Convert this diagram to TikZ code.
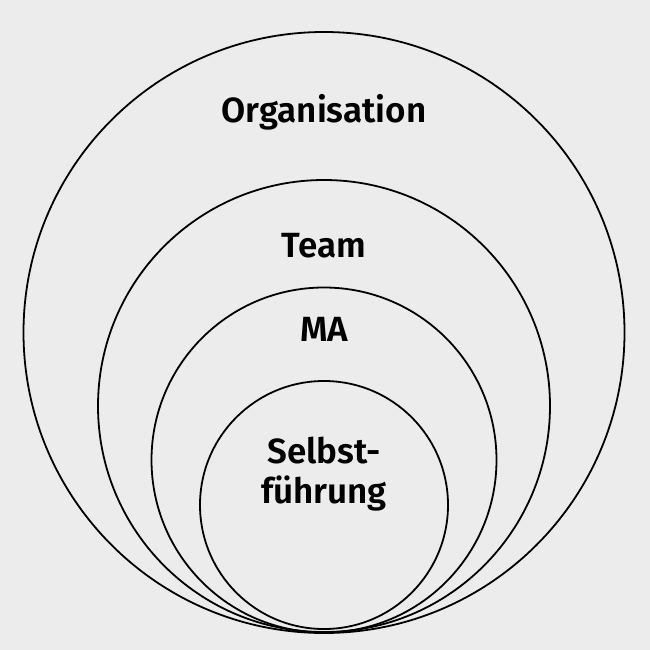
\documentclass[tikz,border=0pt]{standalone}
\usepackage{fontspec}
\setmainfont{Fira Sans}[BoldFont={Fira Sans SemiBold}]
\definecolor{bg}{HTML}{ECECEC}
\begin{document}
\begin{tikzpicture}[x=1pt,y=-1pt,
  ring/.style={draw=black,line width=1.8pt},
  lbl/.style={font=\fontsize{35}{40}\selectfont\bfseries,anchor=base,inner sep=0pt,align=center}]
\fill[bg] (0,0) rectangle (650,650);
\useasboundingbox (0,0) rectangle (650,650);
\draw[ring] (324,332.5) circle (300.5);
\draw[ring] (324,406) circle (226);
\draw[ring] (324,460) circle (172.5);
\draw[ring] (324,505) circle (124);
\node[lbl] (org) at (324,122) {Organisation};
\node[lbl] (team) at (324,257) {Team};
\node[lbl] (ma) at (324,341) {MA};
\node[lbl] (selbst) at (324,463) {Selbst-};
\node[lbl] (fuehrung) at (324,503) {führung};
\end{tikzpicture}
\end{document}
